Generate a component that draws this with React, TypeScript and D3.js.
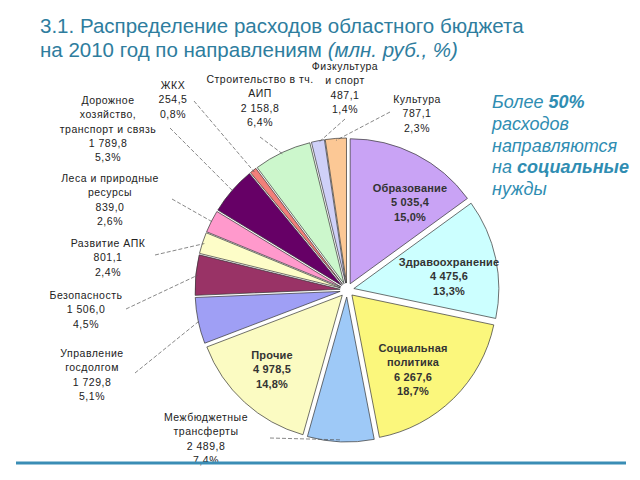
import React, { useEffect, useRef } from 'react';
import * as d3 from 'd3';

// spending directions, clockwise from 12 o'clock
const names = [
  'Образование', 'Здравоохранение', 'Социальная политика', 'Межбюджетные трансферты',
  'Прочие', 'Управление госдолгом', 'Безопасность', 'Развитие АПК',
  'Леса и природные ресурсы', 'Дорожное хозяйство, транспорт и связь', 'ЖКХ',
  'Строительство в тч. АИП', 'Физкультура и спорт', 'Культура',
];
const amounts = [5035.4, 4475.6, 6267.6, 2489.8, 4978.5, 1729.8, 1506.0, 801.1, 839.0, 1789.8, 254.5, 2158.8, 487.1, 787.1];
const amountLabels = ['5 035,4', '4 475,6', '6 267,6', '2 489,8', '4 978,5', '1 729,8', '1 506,0', '801,1', '839,0', '1 789,8', '254,5', '2 158,8', '487,1', '787,1'];
const shares = ['15,0%', '13,3%', '18,7%', '7,4%', '14,8%', '5,1%', '4,5%', '2,4%', '2,6%', '5,3%', '0,8%', '6,4%', '1,4%', '2,3%'];
const colors = ['#c9a3f5', '#ccffff', '#fbf77c', '#9ec9f7', '#fbfbc2', '#9f9ff5', '#993366', '#fdfdc8', '#ff99cc', '#660066', '#f27f7a', '#ccf7cc', '#cfd0f8', '#fcc895'];

// label layout: text lines, centre x, first baseline y, inside flag, leader start
const labelLayout = [
  { lines: ['Образование'], x: 410, y: 192, inside: true },
  { lines: ['Здравоохранение'], x: 449, y: 266, inside: true },
  { lines: ['Социальная', 'политика'], x: 413, y: 352, inside: true },
  { lines: ['Межбюджетные', 'трансферты'], x: 206, y: 421, inside: false, lx: 270, ly: 438 },
  { lines: ['Прочие'], x: 272, y: 359, inside: true },
  { lines: ['Управление', 'госдолгом'], x: 92, y: 357, inside: false, lx: 135, ly: 373 },
  { lines: ['Безопасность'], x: 86, y: 299, inside: false, lx: 126, ly: 309 },
  { lines: ['Развитие АПК'], x: 108, y: 247, inside: false, lx: 155, ly: 255 },
  { lines: ['Леса и природные', 'ресурсы'], x: 110, y: 182, inside: false, lx: 172, ly: 199 },
  { lines: ['Дорожное', 'хозяйство,', 'транспорт и связь'], x: 108, y: 104, inside: false, lx: 170, ly: 128 },
  { lines: ['ЖКХ'], x: 173, y: 89, inside: false, lx: 194, ly: 101 },
  { lines: ['Строительство в тч.', 'АИП'], x: 260, y: 83, inside: false, lx: 260, ly: 137 },
  { lines: ['Физкультура', 'и спорт'], x: 345, y: 70, inside: false, lx: 345, ly: 119 },
  { lines: ['Культура'], x: 417, y: 103, inside: false, lx: 390, ly: 112 },
];

const W = 640;
const H = 480;
const cx = 347;
const cy = 290;
const R = 145;
const EXPLODE = 7;

export default function App() {
  const ref = useRef<SVGSVGElement>(null);

  useEffect(() => {
    const svg = d3.select(ref.current);
    svg.selectAll('*').remove();

    const data = amounts.map((v, i) => ({ v, i }));
    const pie = d3.pie<any>().sort(null).value(d => d.v);
    const arcs = pie(data);
    const arc = d3.arc<any>().innerRadius(0).outerRadius(R);

    const g = svg.append('g').attr('transform', `translate(${cx},${cy})`);

    // leader lines under slices
    const leaders = svg.append('g');
    arcs.forEach((a, k) => {
      const L = labelLayout[k];
      if (L.inside) return;
      const mid = (a.startAngle + a.endAngle) / 2;
      const ex = cx + Math.sin(mid) * (R + EXPLODE - 2);
      const ey = cy - Math.cos(mid) * (R + EXPLODE - 2);
      leaders.append('line')
        .attr('x1', L.lx).attr('y1', L.ly)
        .attr('x2', ex).attr('y2', ey)
        .attr('stroke', '#555')
        .attr('stroke-width', 0.7)
        .attr('stroke-dasharray', '4,2');
    });

    g.selectAll('path')
      .data(arcs)
      .join('path')
      .attr('d', arc)
      .attr('transform', d => {
        const mid = (d.startAngle + d.endAngle) / 2;
        return `translate(${Math.sin(mid) * EXPLODE},${-Math.cos(mid) * EXPLODE})`;
      })
      .attr('fill', d => colors[d.data.i])
      .attr('stroke', '#333')
      .attr('stroke-width', 0.7);

    // labels
    labelLayout.forEach((L, i) => {
      const lines = [...L.lines, amountLabels[i], shares[i]];
      const t = svg.append('text')
        .attr('text-anchor', 'middle')
        .attr('font-family', '"Liberation Sans", Arial, sans-serif')
        .attr('font-size', L.inside ? 11 : 10.5)
        .attr('letter-spacing', L.inside ? 0.2 : 0.5)
        .attr('font-weight', L.inside ? 'bold' : 'normal')
        .attr('fill', L.inside ? '#333' : '#222');
      lines.forEach((s, j) => {
        t.append('tspan').attr('x', L.x).attr('y', L.y + j * 14.3).text(s);
      });
    });
  }, []);

  const teal = '#2e7d9e';
  const note = '#2f8db2';
  return (
    <div style={{ position: 'absolute', left: 0, top: 0 }}>
      <svg ref={ref} width={W} height={H} style={{ display: 'block', position: 'absolute', left: 0, top: 0 }} />
      <svg width={W} height={H} style={{ display: 'block', position: 'absolute', left: 0, top: 0, pointerEvents: 'none' }}>
        <g fontFamily='"Liberation Sans", Arial, sans-serif' fill={teal} fontSize={20.5}>
          <text x={40} y={33}>3.1. Распределение расходов областного бюджета</text>
          <text x={40} y={57}>
            на 2010 год по направлениям <tspan fontStyle="italic">(млн. руб., %)</tspan>
          </text>
        </g>
        <g fontFamily='"Liberation Sans", Arial, sans-serif' fill={note} fontSize={18} fontStyle="italic">
          <text x={492} y={108}>Более <tspan fontWeight="bold">50%</tspan></text>
          <text x={492} y={130}>расходов</text>
          <text x={492} y={152}>направляются</text>
          <text x={492} y={173}>на <tspan fontWeight="bold">социальные</tspan></text>
          <text x={492} y={195}>нужды</text>
        </g>
        <line x1={16} x2={626} y1={463} y2={463} stroke="#3a8db5" strokeWidth={3} />
      </svg>
    </div>
  );
}
